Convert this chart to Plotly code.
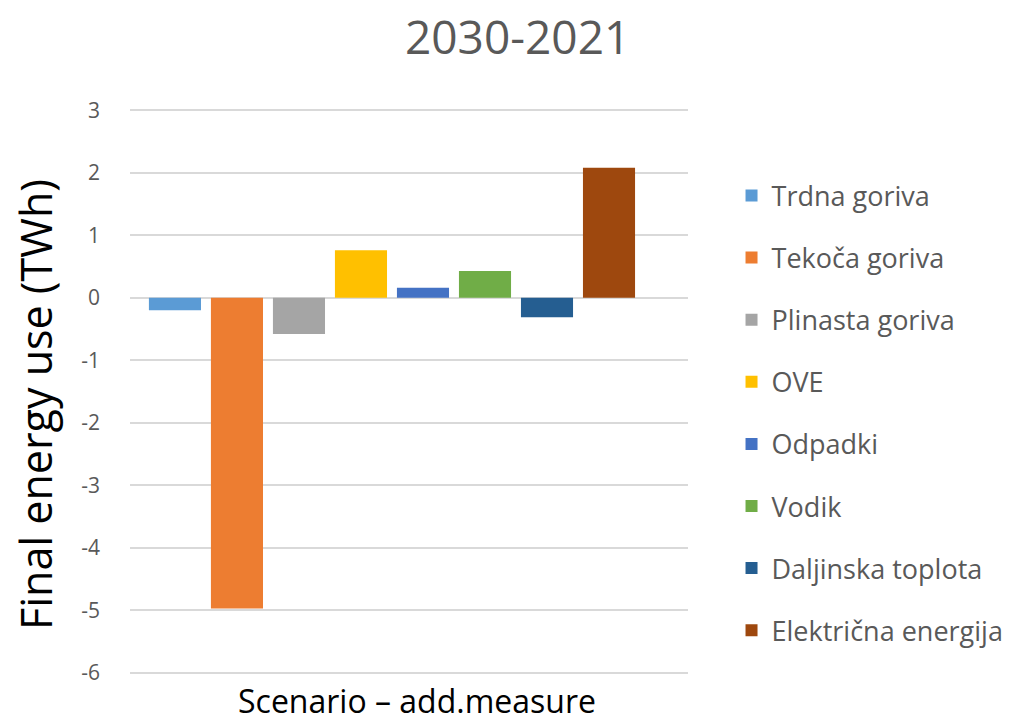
import plotly.graph_objects as go

categories = ["Scenario"]
series_names = ["Trdna goriva", "Tekoča goriva", "Plinasta goriva", "OVE",
                "Odpadki", "Vodik", "Daljinska toplota", "Električna energija"]
series_values = [-0.2, -4.97, -0.58, 0.76, 0.16, 0.43, -0.31, 2.08]
series_colors = ["#5B9BD5", "#ED7D31", "#A5A5A5", "#FFC000",
                 "#4472C4", "#70AD47", "#255E91", "#9E480E"]
y_ticks = [3, 2, 1, 0, -1, -2, -3, -4, -5, -6]
x_title = "Scenario – add.measure"
y_title = "Final energy use (TWh)"
chart_title = "2030-2021"

FONT = "Open Sans"
W, H = 1025, 726
fig = go.Figure()
for i, (name, val, col) in enumerate(zip(series_names, series_values, series_colors)):
    fig.add_trace(go.Bar(
        x=[0], y=[val], name=name, marker=dict(color=col, line=dict(width=0)),
        legendgroup=f"g{i}",
    ))

fig.update_layout(
    width=W, height=H,
    margin=dict(l=130, r=337, t=109, b=52),
    paper_bgcolor="white", plot_bgcolor="white",
    barmode="group", bargap=0.111, bargroupgap=0.16,
    title=dict(text=chart_title, x=0.505, xanchor="center", y=0.948, yanchor="middle",
               font=dict(family=FONT, size=46, color="#595959")),
    font=dict(family=FONT, color="#595959"),
    xaxis=dict(range=[-0.4695, 0.5305], showticklabels=False, showgrid=False,
               zeroline=False, showline=False, ticks="", automargin=False),
    yaxis=dict(range=[-6.02, 3.02], tickvals=y_ticks, ticktext=[str(t) for t in y_ticks],
               showgrid=True, gridcolor="#D9D9D9", gridwidth=2,
               zeroline=True, zerolinecolor="#D9D9D9", zerolinewidth=2,
               showline=False, ticks="", ticklabelstandoff=29, automargin=False,
               tickfont=dict(family=FONT, size=21, color="#595959")),
    legend=dict(x=1.078, xanchor="left", y=0.462, yanchor="middle",
                traceorder="grouped", tracegroupgap=24,
                font=dict(family=FONT, size=27, color="#595959"),
                itemwidth=30, bgcolor="rgba(0,0,0,0)"),
    showlegend=True,
    annotations=[
        dict(text=y_title, xref="paper", yref="paper",
             x=(35 - 130) / (W - 130 - 337), y=(H - 52 - 405) / (H - 109 - 52),
             xanchor="center", yanchor="middle", textangle=-90, showarrow=False,
             font=dict(family=FONT, size=43, color="black")),
        dict(text=x_title, xref="paper", yref="paper",
             x=(417 - 130) / (W - 130 - 337), y=(H - 52 - 700) / (H - 109 - 52),
             xanchor="center", yanchor="middle", showarrow=False,
             font=dict(family=FONT, size=32, color="black")),
    ],
)

fig.write_html("out.html")
